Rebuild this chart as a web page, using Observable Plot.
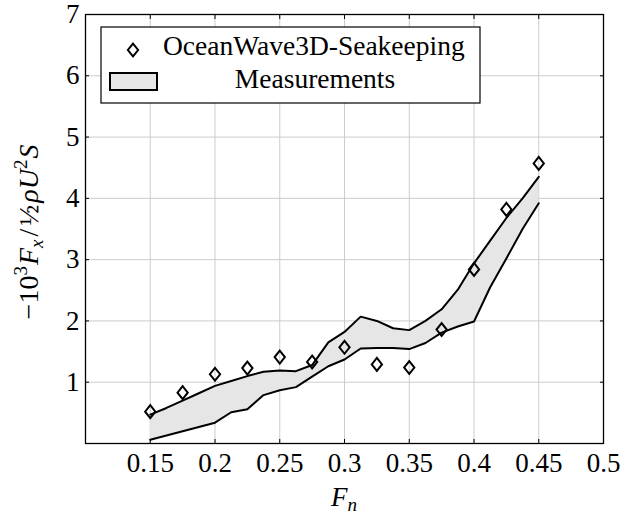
<!DOCTYPE html>
<html><head><meta charset="utf-8">
<script src="https://cdn.jsdelivr.net/npm/d3@7"></script>
<script src="https://cdn.jsdelivr.net/npm/@observablehq/plot@0.6"></script>
<style>
body{margin:0;background:#fff}
#chart{position:relative;width:621px;height:515px}
</style>
</head><body><div id="chart"></div>
<script>
// OceanWave3D-Seakeeping (diamonds)
const simFn    = [0.15, 0.175, 0.2, 0.225, 0.25, 0.275, 0.3, 0.325, 0.35, 0.375, 0.4, 0.425, 0.45];
const simForce = [0.52, 0.83, 1.13, 1.23, 1.41, 1.33, 1.57, 1.29, 1.24, 1.86, 2.84, 3.82, 4.57];
// Measurements band
const measFn    = [0.15, 0.1625, 0.175, 0.1875, 0.2, 0.2125, 0.225, 0.2375, 0.25, 0.2625, 0.275, 0.2875, 0.3, 0.3125, 0.325, 0.3375, 0.35, 0.3625, 0.375, 0.3875, 0.4, 0.4125, 0.425, 0.4375, 0.45];
const measUpper = [0.47, 0.58, 0.70, 0.82, 0.94, 1.02, 1.10, 1.17, 1.19, 1.18, 1.28, 1.65, 1.82, 2.07, 2.00, 1.88, 1.85, 2.00, 2.19, 2.51, 2.94, 3.31, 3.68, 4.00, 4.35];
const measLower = [0.06, 0.13, 0.20, 0.27, 0.34, 0.51, 0.56, 0.79, 0.87, 0.92, 1.09, 1.26, 1.37, 1.55, 1.56, 1.56, 1.54, 1.64, 1.81, 1.91, 1.99, 2.55, 3.02, 3.50, 3.92];
const xTicks = [0.15, 0.2, 0.25, 0.3, 0.35, 0.4, 0.45, 0.5];
const yTicks = [1, 2, 3, 4, 5, 6, 7];
const seriesNames = ["OceanWave3D-Seakeeping", "Measurements"];

const sim = simFn.map((x, i) => ({x, y: simForce[i]}));
const meas = measFn.map((x, i) => ({x, lo: measLower[i], hi: measUpper[i]}));

const FONT = "'Liberation Serif', serif";
const FS = 27;
const tallDiamond = {
  draw(ctx, size) {
    const r = Math.sqrt(size / Math.PI);
    ctx.moveTo(0, -1.2 * r);
    ctx.lineTo(0.95 * r, 0);
    ctx.lineTo(0, 1.2 * r);
    ctx.lineTo(-0.95 * r, 0);
    ctx.closePath();
  }
};
const fmt = d => String(+d.toFixed(2));

const chart = Plot.plot({
  width: 621,
  height: 515,
  marginLeft: 85,
  marginRight: 18,
  marginTop: 14,
  marginBottom: 72,
  style: {fontFamily: FONT, fontSize: FS + "px"},
  x: {domain: [0.1, 0.5]},
  y: {domain: [0, 7]},
  marks: [
    Plot.gridX(xTicks, {stroke: "#cccccc", strokeOpacity: 1, strokeWidth: 1}),
    Plot.gridY(yTicks, {stroke: "#cccccc", strokeOpacity: 1, strokeWidth: 1}),
    Plot.areaY(meas, {x: "x", y1: "lo", y2: "hi", fill: "#e6e6e6", fillOpacity: 1}),
    Plot.line(meas, {x: "x", y: "hi", stroke: "black", strokeWidth: 2}),
    Plot.line(meas, {x: "x", y: "lo", stroke: "black", strokeWidth: 2}),
    Plot.dot(sim, {x: "x", y: "y", symbol: tallDiamond, r: 5.4, stroke: "black", strokeWidth: 2, fill: "none"}),
    Plot.axisX(xTicks, {anchor: "bottom", tickSize: 0, tickPadding: 9, tickFormat: fmt, label: null}),
    Plot.axisY(yTicks, {anchor: "left", tickSize: 0, tickPadding: 6, tickFormat: d => String(d), label: null}),
    Plot.axisX(xTicks, {anchor: "bottom", tickSize: -4, tickFormat: () => "", label: null}),
    Plot.axisX(xTicks, {anchor: "top", tickSize: -4, tickFormat: () => "", label: null}),
    Plot.axisY(yTicks, {anchor: "left", tickSize: -4, tickFormat: () => "", label: null}),
    Plot.axisY(yTicks, {anchor: "right", tickSize: -4, tickFormat: () => "", label: null}),
    Plot.frame({stroke: "black", strokeWidth: 1.3})
  ]
});
document.getElementById("chart").appendChild(chart);

const svg = d3.select(chart);
function txt(sel, size = FS) {
  return sel.append("text").style("font-family", FONT).style("font-size", size + "px").attr("fill", "black");
}
// x label
const xl = txt(svg).attr("x", 344).attr("y", 506).attr("text-anchor", "middle");
xl.append("tspan").attr("font-style", "italic").text("F");
xl.append("tspan").attr("font-style", "italic").style("font-size", "19px").attr("dy", 5).text("n");

// y label
const yl = txt(svg, 28).attr("transform", "translate(38,232) rotate(-90)").attr("text-anchor", "middle");
yl.append("tspan").text("\u221210");
yl.append("tspan").style("font-size", "19px").attr("dy", -11).text("3");
yl.append("tspan").attr("font-style", "italic").attr("dy", 11).attr("dx", 1).text("F");
yl.append("tspan").attr("font-style", "italic").style("font-size", "19px").attr("dy", 5).text("x");
yl.append("tspan").attr("dy", -5).attr("dx", 3).text("/");
yl.append("tspan").attr("dx", 3).text("\u00bd");
yl.append("tspan").attr("font-style", "italic").attr("dx", 2).text("\u03c1U");
yl.append("tspan").style("font-size", "19px").attr("dy", -11).text("2");
yl.append("tspan").attr("font-style", "italic").attr("dy", 11).attr("dx", 1).text("S");

// legend
const lg = svg.append("g");
lg.append("rect").attr("x", 101).attr("y", 27).attr("width", 379).attr("height", 76)
  .attr("fill", "white").attr("stroke", "black").attr("stroke-width", 1.2);
const dpath = d3.path(); tallDiamond.draw(dpath, Math.PI * 5.4 * 5.4);
lg.append("path").attr("d", dpath.toString()).attr("transform", "translate(133,50)")
  .attr("fill", "none").attr("stroke", "black").attr("stroke-width", 2);
txt(lg, 27.5).attr("x", 163).attr("y", 55).attr("text-anchor", "start").text(seriesNames[0]);
lg.append("rect").attr("x", 110).attr("y", 73).attr("width", 47).attr("height", 17)
  .attr("fill", "#e6e6e6").attr("stroke", "black").attr("stroke-width", 2);
txt(lg, 27.5).attr("x", 315).attr("y", 88).attr("text-anchor", "middle").text(seriesNames[1]);
</script>
</body></html>
